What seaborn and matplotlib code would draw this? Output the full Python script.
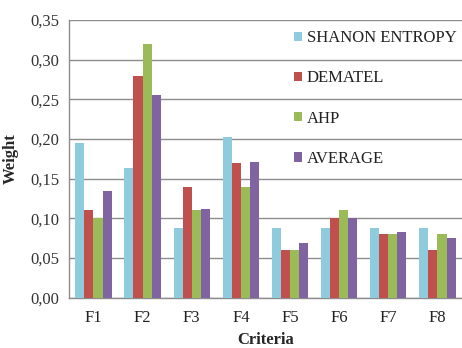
import matplotlib
matplotlib.use("Agg")
import matplotlib.pyplot as plt
from matplotlib.ticker import FuncFormatter, FixedLocator
import seaborn as sns
import pandas as pd
import numpy as np

criteria = ["F1", "F2", "F3", "F4", "F5", "F6", "F7", "F8"]
methods = ["SHANON ENTROPY", "DEMATEL", "AHP", "AVERAGE"]
shanon = [0.195, 0.163, 0.088, 0.202, 0.088, 0.088, 0.088, 0.088]
dematel = [0.110, 0.280, 0.140, 0.170, 0.060, 0.100, 0.080, 0.060]
ahp = [0.100, 0.320, 0.110, 0.140, 0.060, 0.110, 0.080, 0.080]
average = [0.135, 0.255, 0.112, 0.171, 0.069, 0.100, 0.083, 0.075]
colors = ["#8DCBDD", "#C0504D", "#9BBB59", "#8064A2"]

df = pd.DataFrame({
    "Criteria": criteria * 4,
    "Method": np.repeat(methods, len(criteria)),
    "Weight": shanon + dematel + ahp + average,
})

sns.set_style("white")
plt.rcParams["font.family"] = ["Liberation Serif", "DejaVu Serif"]

fig = plt.figure(figsize=(4.62, 3.48), dpi=100)
ax = fig.add_axes([0.149, 0.1445, 0.851, 0.798])

sns.barplot(data=df, x="Criteria", y="Weight", hue="Method", order=criteria,
            hue_order=methods, palette=colors, width=0.74, saturation=1,
            edgecolor="none", linewidth=0, ax=ax, zorder=3)

ax.set_ylim(0, 0.35)
ax.set_xlim(-0.5, len(criteria) - 0.5)
ax.set_yticks(np.arange(0, 0.351, 0.05))
ax.yaxis.set_major_formatter(FuncFormatter(lambda v, p: f"{v:.2f}".replace(".", ",")))
ax.grid(axis="y", color="#8C8C8C", linewidth=1.0, zorder=0)
ax.grid(axis="x", visible=False)

for s in ["top", "right"]:
    ax.spines[s].set_visible(False)
for s in ["left", "bottom"]:
    ax.spines[s].set_color("#8C8C8C")
    ax.spines[s].set_linewidth(1.0)

ax.xaxis.set_minor_locator(FixedLocator(np.arange(-0.5, len(criteria), 1.0)))
ax.tick_params(axis="x", which="major", length=0, pad=9, labelsize=12, colors="#222222")
ax.tick_params(axis="x", which="minor", length=5, width=1, color="#8C8C8C", direction="out")
ax.tick_params(axis="y", which="major", length=4, width=1, color="#8C8C8C",
               direction="out", labelsize=12, labelcolor="#333333", pad=3)

ax.set_xlabel("Criteria", fontsize=12, fontweight="bold", labelpad=4)
ax.set_ylabel("Weight", fontsize=12, fontweight="bold", labelpad=8)

leg = ax.legend(loc="upper right", bbox_to_anchor=(1.012, 0.999), frameon=False,
                fontsize=12, handlelength=0.5, handleheight=0.5,
                handletextpad=0.3, labelspacing=1.45, borderaxespad=0.2)
for t in leg.get_texts():
    t.set_color("#222222")

fig.savefig("out.png", dpi=100)
